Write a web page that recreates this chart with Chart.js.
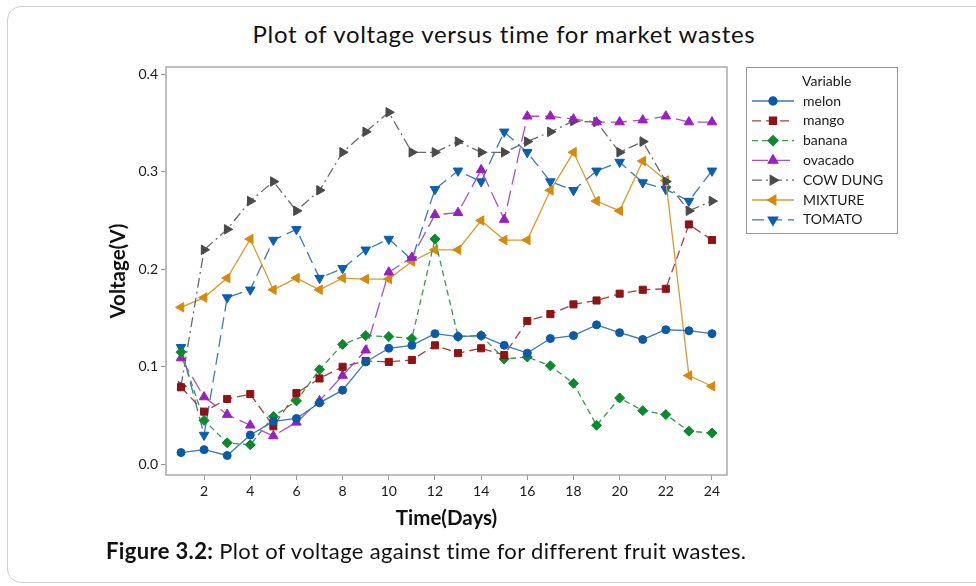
<!DOCTYPE html>
<html>
<head>
<meta charset="utf-8">
<script src="https://cdn.jsdelivr.net/npm/chart.js@4/dist/chart.umd.min.js"></script>
<style>
  html, body { margin: 0; padding: 0; background: #fff; }
  body { width: 976px; height: 586px; position: relative; overflow: hidden; font-family: Lato, "Open Sans", sans-serif; }
  #card { position: absolute; left: 7px; top: 6px; width: 1000px; height: 577px; border: 1.5px solid #d0d0d0; border-radius: 14px; box-sizing: border-box; }
  #title { position: absolute; left: 0; width: 1008px; top: 19px; text-align: center; font-size: 24px; letter-spacing: 0.7px; color: #111; }
  #wrap { position: absolute; left: 0; top: 0; width: 976px; height: 586px; }
  #caption { position: absolute; left: 106px; top: 537px; font-size: 22px; letter-spacing: 0.35px; color: #111; }
  #caption b { font-weight: 700; }
</style>
</head>
<body>
<div id="card"></div>
<div id="title">Plot of voltage versus time for market wastes</div>
<div id="wrap"><canvas id="myChart" width="976" height="586"></canvas></div>
<div id="caption"><b>Figure 3.2:</b> Plot of voltage against time for different fruit wastes.</div>
<script>
let ctx = document.getElementById('myChart').getContext('2d');

// days 1..24
const days = [1, 2, 3, 4, 5, 6, 7, 8, 9, 10, 11, 12, 13, 14, 15, 16, 17, 18, 19, 20, 21, 22, 23, 24];
const xTicks = [2, 4, 6, 8, 10, 12, 14, 16, 18, 20, 22, 24];
const yTicks = [0, 0.1, 0.2, 0.3, 0.4];

const melon   = [0.012, 0.015, 0.009, 0.030, 0.044, 0.047, 0.063, 0.076, 0.105, 0.119, 0.122, 0.134, 0.131, 0.132, 0.122, 0.114, 0.129, 0.132, 0.143, 0.135, 0.128, 0.138, 0.137, 0.134];
const mango   = [0.079, 0.054, 0.067, 0.072, 0.039, 0.073, 0.088, 0.100, 0.106, 0.105, 0.107, 0.122, 0.114, 0.119, 0.112, 0.147, 0.154, 0.164, 0.168, 0.175, 0.179, 0.180, 0.246, 0.230];
const banana  = [0.115, 0.045, 0.022, 0.020, 0.049, 0.065, 0.097, 0.123, 0.132, 0.131, 0.129, 0.231, 0.131, 0.132, 0.108, 0.110, 0.101, 0.083, 0.040, 0.068, 0.055, 0.051, 0.034, 0.032];
const ovacado = [0.109, 0.069, 0.051, 0.040, 0.029, 0.043, 0.065, 0.091, 0.117, 0.197, 0.212, 0.256, 0.258, 0.302, 0.251, 0.357, 0.357, 0.354, 0.351, 0.351, 0.353, 0.357, 0.351, 0.351];
const cowDung = [0.080, 0.220, 0.241, 0.270, 0.290, 0.260, 0.281, 0.320, 0.341, 0.361, 0.320, 0.320, 0.331, 0.320, 0.320, 0.331, 0.341, 0.352, 0.351, 0.320, 0.331, 0.290, 0.260, 0.270];
const mixture = [0.161, 0.171, 0.191, 0.231, 0.179, 0.191, 0.179, 0.191, 0.190, 0.190, 0.208, 0.220, 0.220, 0.250, 0.230, 0.230, 0.281, 0.320, 0.270, 0.260, 0.311, 0.291, 0.091, 0.080];
const tomato  = [0.120, 0.030, 0.171, 0.179, 0.230, 0.241, 0.191, 0.201, 0.220, 0.231, 0.210, 0.282, 0.301, 0.290, 0.341, 0.320, 0.290, 0.281, 0.301, 0.310, 0.289, 0.282, 0.270, 0.301];

function pts(arr) {
    return days.map((d, i) => ({ x: d, y: arr[i] }));
}

function series(label, arr, color, lineColor, dash, style, rot, r) {
    return {
        label: label,
        data: pts(arr),
        borderColor: lineColor,
        backgroundColor: color,
        pointBackgroundColor: color,
        pointBorderColor: color,
        pointBorderWidth: 1,
        borderWidth: 1.3,
        borderDash: dash,
        pointStyle: style,
        rotation: rot,
        pointRadius: r,
        tension: 0
    };
}

const boxPlugin = { //-- frame around plot + legend box
    id: 'boxPlugin',
    afterDraw(chart) {
        const c = chart.ctx;
        const a = chart.chartArea;
        c.save();
        c.strokeStyle = '#aaaaaa';
        c.lineWidth = 1.5;
        c.strokeRect(a.left, a.top, a.right - a.left, a.bottom - a.top);

        // legend
        const lx = 746, ly = 67, lw = 151, lh = 166;
        c.lineWidth = 1;
        c.strokeStyle = '#999999';
        c.strokeRect(lx + 0.5, ly + 0.5, lw, lh);
        c.fillStyle = '#1a1a1a';
        c.font = '14px Lato';
        c.textBaseline = 'middle';
        c.textAlign = 'left';
        c.fillText('Variable', 802, 81);
        chart.data.datasets.forEach((ds, i) => {
            const y = 101 + i * 19.8;
            c.strokeStyle = ds.borderColor;
            c.lineWidth = 1.3;
            c.setLineDash(ds.borderDash);
            c.beginPath();
            c.moveTo(752, y);
            c.lineTo(794, y);
            c.stroke();
            c.setLineDash([]);
            c.fillStyle = ds.backgroundColor;
            c.strokeStyle = ds.backgroundColor;
            Chart.helpers.drawPoint(c, {
                pointStyle: ds.pointStyle,
                rotation: ds.rotation,
                radius: ds.pointRadius,
                borderWidth: 1
            }, 773, y);
            c.fillStyle = '#1a1a1a';
            c.fillText(ds.label, 803, y);
        });
        c.restore();
    }
};

var myChart = new Chart(ctx, {
    type: 'line',
    data: {
        datasets: [
            series('melon', melon, '#0a5aa8', '#3a78b8', [], 'circle', 0, 4),
            series('mango', mango, '#8c1414', '#a84040', [9, 5], 'rect', 0, 5),
            series('banana', banana, '#0b8a2c', '#3a9a50', [6, 4], 'rectRot', 0, 5),
            series('ovacado', ovacado, '#9a1ec0', '#a850c8', [16, 6], 'triangle', 0, 5.5),
            series('COW DUNG', cowDung, '#4a4a4a', '#6a6a6a', [10, 4, 2, 4], 'triangle', 90, 5.5),
            series('MIXTURE', mixture, '#d68a0c', '#dc9a30', [], 'triangle', -90, 5.5),
            series('TOMATO', tomato, '#0c5fae', '#3a7ab8', [12, 6], 'triangle', 180, 5.5)
        ]
    },
    options: {
        responsive: false,
        animation: false,
        layout: { padding: { left: 96, right: 249, top: 67, bottom: 51 } },
        plugins: {
            legend: { display: false },
            title: { display: false },
            tooltip: { enabled: false }
        },
        scales: {
            x: {
                type: 'linear',
                min: 0.35,
                max: 24.65,
                afterBuildTicks: (s) => { s.ticks = xTicks.map(v => ({ value: v })); },
                afterFit: (s) => { s.height = 60; },
                grid: { drawOnChartArea: false, drawTicks: true, tickLength: 5, color: '#999' },
                border: { display: false },
                ticks: { color: '#1a1a1a', font: { family: 'Lato', size: 14 }, padding: 3, maxRotation: 0 },
                title: { display: true, text: 'Time(Days)', color: '#111', font: { family: 'Lato', size: 20.5, weight: 'bold' }, padding: { top: 0, bottom: 4 } }
            },
            y: {
                min: -0.011,
                max: 0.4075,
                afterBuildTicks: (s) => { s.ticks = yTicks.map(v => ({ value: v })); },
                afterFit: (s) => { s.width = 70; },
                grid: { drawOnChartArea: false, drawTicks: true, tickLength: 5, color: '#999' },
                border: { display: false },
                ticks: { color: '#1a1a1a', font: { family: 'Lato', size: 14 }, padding: 3, callback: (v) => v.toFixed(1) },
                title: { display: true, text: 'Voltage(V)', color: '#111', font: { family: 'Lato', size: 20.5, weight: 'bold' }, padding: { top: 10, bottom: 0 } }
            }
        }
    },
    plugins: [boxPlugin]
});
</script>
</body>
</html>
